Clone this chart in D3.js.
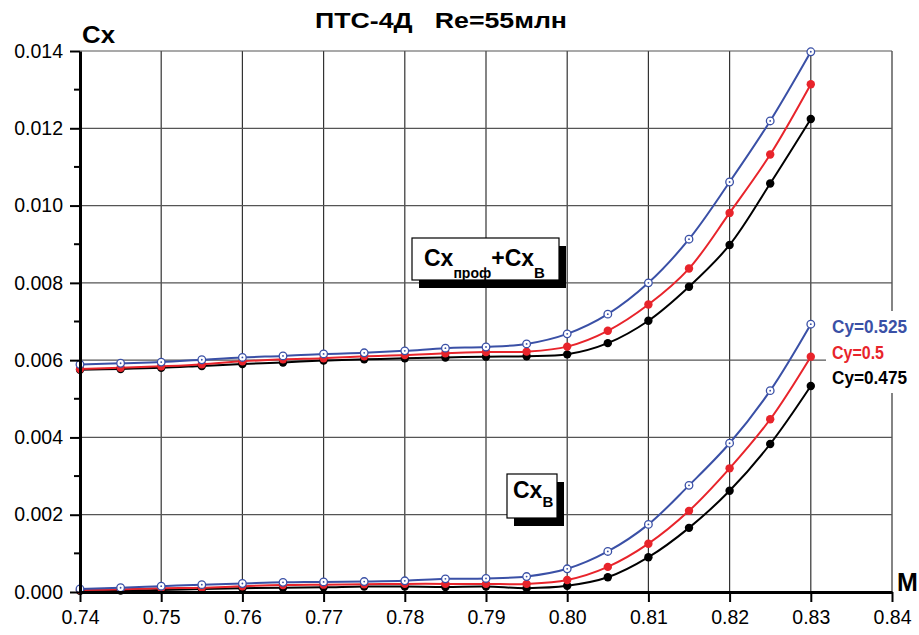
<!DOCTYPE html>
<html>
<head>
<meta charset="utf-8">
<script src="https://cdn.jsdelivr.net/npm/d3@7"></script>
<style>
  body { margin: 0; background: #fff; }
  text { font-family: "Liberation Sans", Arial, sans-serif; }
</style>
</head>
<body>
<div id="chart"></div>
<script>
// Mach numbers
var mach = [0.74, 0.745, 0.75, 0.755, 0.76, 0.765, 0.77, 0.775, 0.78, 0.785, 0.79, 0.795, 0.80, 0.805, 0.81, 0.815, 0.82, 0.825, 0.83];

// Cx_prof + Cx_B (upper curves)
var cxTot525 = [0.00589, 0.00592, 0.00595, 0.00601, 0.00607, 0.00611, 0.00616, 0.00619, 0.00624, 0.00631, 0.00634, 0.00642, 0.00668, 0.00719, 0.00800, 0.00913, 0.01061, 0.01219, 0.01398];
var cxTot500 = [0.00577, 0.00580, 0.00584, 0.00589, 0.00597, 0.00602, 0.00605, 0.00610, 0.00613, 0.00618, 0.00621, 0.00622, 0.00635, 0.00676, 0.00744, 0.00837, 0.00981, 0.01132, 0.01314];
var cxTot475 = [0.00575, 0.00577, 0.00580, 0.00585, 0.00590, 0.00594, 0.00599, 0.00602, 0.00605, 0.00607, 0.00609, 0.00610, 0.00615, 0.00644, 0.00702, 0.00790, 0.00898, 0.01057, 0.01224];

// Cx_B (lower curves)
var cxB525 = [0.00008, 0.00011, 0.00015, 0.00019, 0.00022, 0.00025, 0.00026, 0.00027, 0.00029, 0.00034, 0.00035, 0.00040, 0.00060, 0.00105, 0.00175, 0.00276, 0.00385, 0.00521, 0.00693];
var cxB500 = [0.00005, 0.00007, 0.00010, 0.00011, 0.00015, 0.00018, 0.00019, 0.00020, 0.00021, 0.00021, 0.00021, 0.00021, 0.00031, 0.00065, 0.00125, 0.00210, 0.00320, 0.00447, 0.00609];
var cxB475 = [0.00003, 0.00004, 0.00005, 0.00008, 0.00010, 0.00011, 0.00012, 0.00014, 0.00014, 0.00013, 0.00014, 0.00010, 0.00016, 0.00038, 0.00090, 0.00166, 0.00262, 0.00383, 0.00533];

var xTicks = [0.74, 0.75, 0.76, 0.77, 0.78, 0.79, 0.80, 0.81, 0.82, 0.83, 0.84];
var yTicks = [0, 0.002, 0.004, 0.006, 0.008, 0.010, 0.012, 0.014];
var yMinor = [0.001, 0.003, 0.005, 0.007, 0.009, 0.011, 0.013];
var legendLabels = ["Cy=0.525", "Cy=0.5", "Cy=0.475"];

var blue = "#3a50a6", red = "#e8242b", black = "#000";

var W = 919, H = 635;
var margin = {top: 51, right: 27, bottom: 43, left: 80},
    width = W - margin.left - margin.right,
    height = H - margin.top - margin.bottom;

var svg = d3.select("#chart")
  .append("svg")
    .attr("width", W)
    .attr("height", H)
  .append("g")
    .attr("transform", "translate(" + margin.left + "," + margin.top + ")");

var x = d3.scaleLinear().domain([0.74, 0.84]).range([0, width]);
var y = d3.scaleLinear().domain([0, 0.014]).range([height, 0]);

// grid
svg.append("g")
  .selectAll("line")
  .data(xTicks.slice(1))
  .enter()
  .append("line")
    .attr("x1", function(d) { return x(d); })
    .attr("x2", function(d) { return x(d); })
    .attr("y1", 0)
    .attr("y2", height)
    .attr("stroke", "#333")
    .attr("stroke-width", 1.2);

svg.append("g")
  .selectAll("line")
  .data(yTicks.slice(1))
  .enter()
  .append("line")
    .attr("x1", 0)
    .attr("x2", width)
    .attr("y1", function(d) { return y(d); })
    .attr("y2", function(d) { return y(d); })
    .attr("stroke", "#555")
    .attr("stroke-width", 1.2);

// curves
var series = [
  {v: cxTot525, c: blue, open: true},
  {v: cxTot500, c: red},
  {v: cxTot475, c: black},
  {v: cxB525, c: blue, open: true},
  {v: cxB500, c: red},
  {v: cxB475, c: black}
];
// draw black first, then red, then blue on top
var order = [2, 1, 0, 5, 4, 3];

var line = d3.line()
  .x(function(d, i) { return x(mach[i]); })
  .y(function(d) { return y(d); })
  .curve(d3.curveCatmullRom.alpha(0.5));

order.forEach(function(k) {
  var s = series[k];
  svg.append("path")
    .attr("d", line(s.v))
    .attr("fill", "none")
    .attr("stroke", s.c)
    .attr("stroke-width", 2);
});

order.forEach(function(k) {
  var s = series[k];
  var g = svg.append("g");
  g.selectAll("circle")
    .data(s.v)
    .enter()
    .append("circle")
      .attr("cx", function(d, i) { return x(mach[i]); })
      .attr("cy", function(d) { return y(d); })
      .attr("r", s.open ? 3.8 : 4.2)
      .attr("fill", s.open ? "#fff" : s.c)
      .attr("stroke", s.c)
      .attr("stroke-width", s.open ? 1.3 : 0);
  if (s.open) {
    g.selectAll("circle.dot")
      .data(s.v)
      .enter()
      .append("circle")
        .attr("class", "dot")
        .attr("cx", function(d, i) { return x(mach[i]); })
        .attr("cy", function(d) { return y(d); })
        .attr("r", 0.9)
        .attr("fill", s.c);
  }
});

// label boxes with shadow
function labelBox(bx, by, bw, bh, dx, dy) {
  svg.append("rect")
    .attr("x", bx + dx).attr("y", by + dy)
    .attr("width", bw).attr("height", bh)
    .attr("fill", "#000");
  svg.append("rect")
    .attr("x", bx).attr("y", by)
    .attr("width", bw).attr("height", bh)
    .attr("fill", "#fff")
    .attr("stroke", "#000")
    .attr("stroke-width", 1.2);
}

labelBox(412 - margin.left, 238 - margin.top, 147, 42, 7, 8);
var t1 = svg.append("text")
  .attr("x", 424 - margin.left)
  .attr("y", 266 - margin.top)
  .attr("font-weight", "bold")
  .attr("font-size", 23);
t1.append("tspan").text("Cx");
t1.append("tspan").attr("font-size", 14).attr("dy", 12).text("проф");
t1.append("tspan").attr("dy", -12).text("+Cx");
t1.append("tspan").attr("font-size", 15).attr("dy", 12).text("В");

labelBox(507 - margin.left, 474 - margin.top, 50, 44, 7, 8);
var t2 = svg.append("text")
  .attr("x", 513 - margin.left)
  .attr("y", 498 - margin.top)
  .attr("font-weight", "bold")
  .attr("font-size", 23);
t2.append("tspan").text("Cx");
t2.append("tspan").attr("font-size", 15).attr("dy", 9).text("В");

// legend
svg.append("rect")
  .attr("x", 826 - margin.left)
  .attr("y", 311 - margin.top)
  .attr("width", 90)
  .attr("height", 82)
  .attr("fill", "#fff");

var legendColors = [blue, red, black];
var legendY = [333, 359, 384];
var legendW = [75, 52, 75];
svg.append("g")
  .selectAll("text")
  .data(legendLabels)
  .enter()
  .append("text")
    .attr("x", 832 - margin.left)
    .attr("y", function(d, i) { return legendY[i] - margin.top; })
    .attr("font-size", 17.5)
    .attr("font-weight", "bold")
    .attr("textLength", function(d, i) { return legendW[i]; })
    .attr("lengthAdjust", "spacingAndGlyphs")
    .attr("fill", function(d, i) { return legendColors[i]; })
    .text(function(d) { return d; });

// axes
var xAxis = svg.append("g")
  .attr("transform", "translate(0," + height + ")")
  .call(d3.axisBottom(x).tickValues(xTicks).tickFormat(d3.format(".2f")).tickSizeInner(10).tickSizeOuter(0).tickPadding(8));
xAxis.select(".domain").attr("stroke-width", 3);
xAxis.selectAll(".tick line").attr("stroke-width", 2);
xAxis.selectAll("text").attr("font-size", 19.5).attr("font-family", "Liberation Sans, Arial, sans-serif");

var yAxis = svg.append("g")
  .call(d3.axisLeft(y).tickValues(yTicks).tickFormat(d3.format(".3f")).tickSizeInner(10).tickSizeOuter(0).tickPadding(7));
yAxis.select(".domain").attr("stroke-width", 3);
yAxis.selectAll(".tick line").attr("stroke-width", 2);
yAxis.selectAll("text").attr("font-size", 19.5).attr("font-family", "Liberation Sans, Arial, sans-serif");

svg.append("g")
  .selectAll("line")
  .data(yMinor)
  .enter()
  .append("line")
    .attr("x1", -6)
    .attr("x2", 0)
    .attr("y1", function(d) { return y(d); })
    .attr("y2", function(d) { return y(d); })
    .attr("stroke", "#000")
    .attr("stroke-width", 2);

// axis titles and chart title
svg.append("text")
  .attr("x", 82 - margin.left)
  .attr("y", 43 - margin.top)
  .attr("font-size", 23)
  .attr("font-weight", "bold")
  .attr("textLength", 33)
  .attr("lengthAdjust", "spacingAndGlyphs")
  .text("Cx");

svg.append("text")
  .attr("x", 897 - margin.left)
  .attr("y", 591 - margin.top)
  .attr("font-size", 25)
  .attr("font-weight", "bold")
  .text("M");

svg.append("text")
  .attr("x", 315 - margin.left)
  .attr("y", 28 - margin.top)
  .attr("font-size", 22.5)
  .attr("font-weight", "bold")
  .attr("textLength", 252)
  .attr("lengthAdjust", "spacingAndGlyphs")
  .style("white-space", "pre")
  .text("ПТС-4Д   Re=55млн");
</script>
</body>
</html>
